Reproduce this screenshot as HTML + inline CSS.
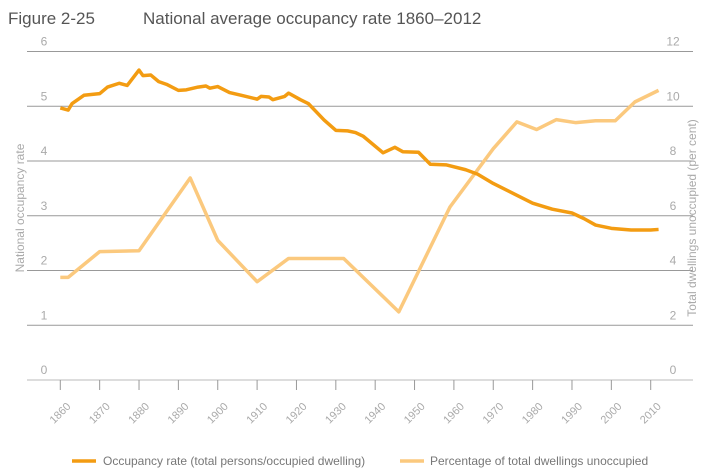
<!DOCTYPE html>
<html><head><meta charset="utf-8"><style>
body{margin:0;background:#fff;font-family:"Liberation Sans",sans-serif}
svg{display:block}
</style></head><body>
<svg width="713" height="476" id="chart" font-family="Liberation Sans, sans-serif">
<text x="8" y="24" font-size="17" fill="#555">Figure 2-25</text>
<text x="143" y="24" font-size="17" fill="#555">National average occupancy rate 1860–2012</text>
<g id="grid"></g><g id="xaxis"></g><g id="series"></g>
<text transform="translate(24,208) rotate(-90)" text-anchor="middle" font-size="12" fill="#aaa">National occupancy rate</text>
<text transform="translate(696,218) rotate(-90)" text-anchor="middle" font-size="12" fill="#aaa">Total dwellings unoccupied (per cent)</text>
<g>
<line x1="72" y1="461" x2="96" y2="461" stroke="#F39C12" stroke-width="3.5"/>
<text x="103" y="465" font-size="12" fill="#777">Occupancy rate (total persons/occupied dwelling)</text>
<line x1="400" y1="461" x2="424" y2="461" stroke="#FBC97E" stroke-width="3.5"/>
<text x="430" y="465" font-size="12" fill="#777">Percentage of total dwellings unoccupied</text>
</g>
</svg>
<script>
const occYears=[1860,1862,1863,1866,1870,1872,1875,1877,1880,1881,1883,1885,1887,1890,1892,1895,1897,1898,1900,1903,1906,1910,1911,1913,1914,1917,1918,1921,1923,1925,1927,1930,1933,1935,1937,1942,1945,1947,1951,1954,1958,1963,1966,1970,1975,1980,1985,1990,1993,1996,2000,2005,2010,2012];
const occValues=[4.97,4.93,5.05,5.2,5.23,5.35,5.42,5.38,5.66,5.56,5.57,5.45,5.4,5.29,5.3,5.35,5.37,5.33,5.36,5.25,5.2,5.13,5.18,5.17,5.12,5.18,5.24,5.12,5.05,4.9,4.75,4.56,4.55,4.52,4.45,4.15,4.25,4.17,4.16,3.94,3.93,3.84,3.76,3.59,3.41,3.23,3.12,3.05,2.95,2.83,2.77,2.74,2.74,2.75];
const vacYears=[1860,1862,1870,1880,1893,1900,1910,1918,1932,1946,1959,1970,1976,1981,1986,1991,1996,2001,2006,2012];
const vacValues=[3.75,3.75,4.69,4.72,7.38,5.1,3.59,4.44,4.44,2.49,6.32,8.45,9.43,9.15,9.51,9.4,9.47,9.47,10.16,10.58];
const leftTicks=["0","1","2","3","4","5","6"];
const rightTicks=["0","2","4","6","8","10","12"];
const xTicks=[1860,1870,1880,1890,1900,1910,1920,1930,1940,1950,1960,1970,1980,1990,2000,2010];
const NS="http://www.w3.org/2000/svg";
const x=yr=>60.3+(yr-1860)*3.936;
const yL=v=>380-v*54.75;
const yR=v=>yL(v/2);
function mk(tag,attrs,parent){const e=document.createElementNS(NS,tag);for(const k in attrs)e.setAttribute(k,attrs[k]);parent.appendChild(e);return e;}
const grid=document.getElementById('grid');
leftTicks.forEach((t,i)=>{
 const l=mk('line',{x1:27,x2:693,y1:yL(i),y2:yL(i),stroke:i==0?'#bbb':'#999','stroke-width':1},grid);
 
 
 const a=mk('text',{x:44,y:yL(i)-6,'text-anchor':'middle','font-size':12,fill:'#aaa'},grid);a.textContent=t;
 
 
 const b=mk('text',{x:673,y:yL(i)-6,'text-anchor':'middle','font-size':12,fill:'#aaa'},grid);b.textContent=rightTicks[i];
 
 
});
const xa=document.getElementById('xaxis');
xTicks.forEach(t=>{
 const l=mk('line',{x1:x(t),x2:x(t),y1:380,y2:390,stroke:'#999'},xa);
 
 
 const tx=mk('text',{transform:`translate(${x(t)+4},${400}) rotate(-45)`,'text-anchor':'end','font-size':11,fill:'#aaa',dy:'0.9em'},xa);tx.textContent=t;
 
 
});
const s=document.getElementById('series');
const p2=mk('polyline',{points:vacYears.map((yr,i)=>x(yr)+','+yR(vacValues[i])).join(' '),fill:'none',stroke:'#FBC97E','stroke-width':3.5,'stroke-linejoin':'round'},s);


const p1=mk('polyline',{points:occYears.map((yr,i)=>x(yr)+','+yL(occValues[i])).join(' '),fill:'none',stroke:'#F39C12','stroke-width':3.5,'stroke-linejoin':'round'},s);


</script>
</body></html>
